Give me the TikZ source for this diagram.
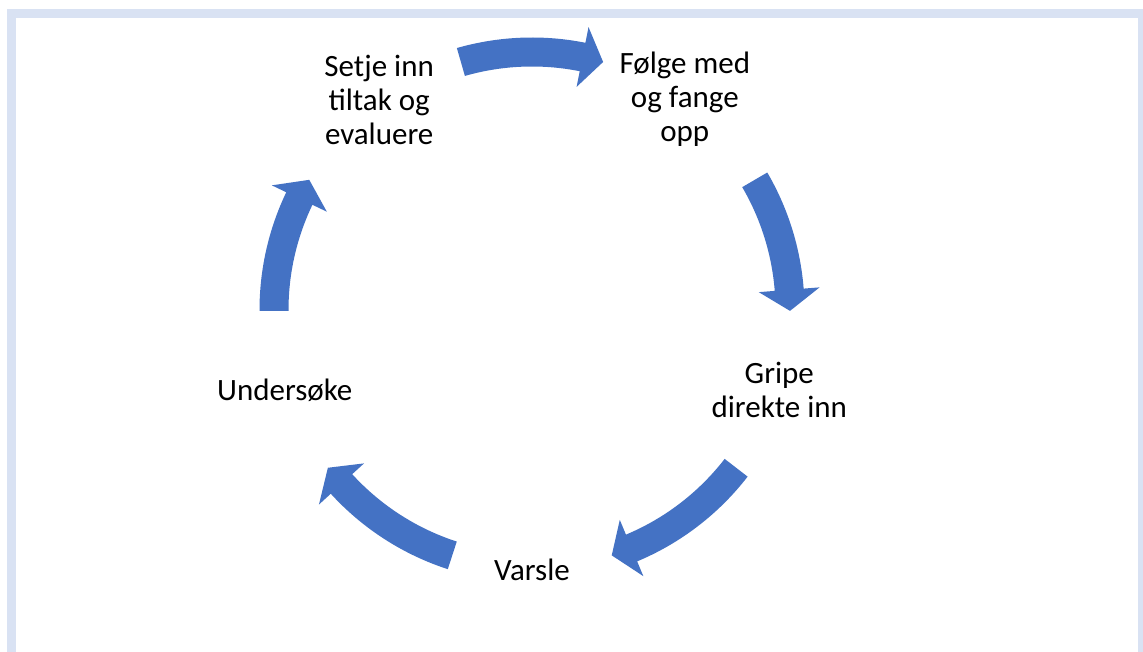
\documentclass[tikz,border=0pt]{standalone}
\usepackage{fontspec}
\setmainfont{Carlito}
\usetikzlibrary{calc}
\definecolor{cycleblue}{HTML}{4472C4}
\definecolor{framefill}{HTML}{D9E2F3}
\def\rmid{258}
\def\rin{243.5}
\def\rout{272.5}
\def\hin{227.5}
\def\hout{288.5}
\def\headl{4.7}
\tikzset{
    phase/.style = {
        align=center, inner sep=0pt, font=\fontsize{31}{34}\selectfont
    },
    arrowfill/.style = {
        fill=cycleblue
    },
}
% #1 = tail angle, #2 = tip angle (clockwise)
\newcommand{\cyclearrow}[2]{%
    \pgfmathsetmacro{\hb}{#2+\headl}
    \fill[arrowfill] ($(c)+(#1:\rout pt)$) arc[start angle=#1, end angle=\hb, radius=\rout pt]
        -- ($(c)+(\hb:\hout pt)$) -- ($(c)+(#2:\rmid pt)$) -- ($(c)+(\hb:\hin pt)$)
        -- ($(c)+(\hb:\rin pt)$) arc[start angle=\hb, end angle=#1, radius=\rin pt] -- cycle;
}

\begin{document}
\begin{tikzpicture}[x=1pt, y=1pt]
        % Frame
        \useasboundingbox (0,0) rectangle (1143,652);
        \fill[framefill] (7,0) rectangle (1143,643);
        \fill[white] (16,0) rectangle (1138,634);

        % Place the steps
        \coordinate (c) at (532,342);
        \node[phase] (setje) at ($(c)+(126:260pt)$) {Setje inn\\tiltak og\\evaluere};
        \node[phase] (folge) at ($(c)+(54:260pt)$) {Følge med\\og fange\\opp};
        \node[phase] (gripe) at ($(c)+(-18:260pt)$) {Gripe\\direkte inn};
        \node[phase] (varsle) at ($(c)+(-90:260pt)$) {Varsle};
        \node[phase] (undersoke) at ($(c)+(-162:260pt)$) {Undersøke};

        % Draw arrows
        \cyclearrow{106}{74}
        \cyclearrow{30.3}{-0.2}
        \cyclearrow{-37.7}{-72}
        \cyclearrow{-108}{-142.3}
        \cyclearrow{180.2}{149.7}
    \end{tikzpicture}
\end{document}
